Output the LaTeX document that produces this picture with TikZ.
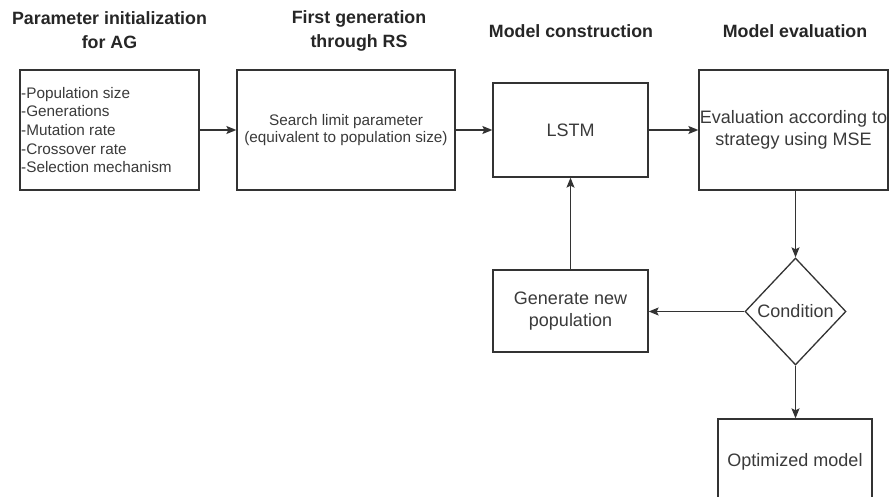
\documentclass[tikz,border=0pt]{standalone}
\usepackage{fontspec}
\setmainfont{Liberation Sans}
\usetikzlibrary{shapes.geometric,arrows.meta}
\definecolor{ink}{HTML}{333333}
\definecolor{txt}{HTML}{3A3A3A}
\tikzset{
  stage/.style={draw=ink, line width=1.3pt, inner sep=0pt, text=txt,
    align=center, font=\fontsize{18}{21.5}\selectfont},
  smalltext/.style={font=\fontsize{15.3}{17}\selectfont},
  title/.style={text=black!85, align=center, inner sep=0pt,
    font=\bfseries\fontsize{17.8}{24}\selectfont},
  decision/.style={diamond, aspect=1, draw=ink, line width=1.3pt, inner sep=0pt,
    text=txt, font=\fontsize{18}{21.5}\selectfont,
    minimum width=101pt, minimum height=107pt},
  flow/.style={draw=ink, line width=1.3pt,
    -{Stealth[length=10pt, width=8pt, inset=2pt]}},
}
\begin{document}
\begin{tikzpicture}[x=1pt, y=-1pt]
  \clip (0,0) rectangle (891,497);
  \fill[white] (0,0) rectangle (891,497);

  % column headings
  \node[title] (t1) at (109.5,30.5) {Parameter initialization\\for AG};
  \node[title] (t2) at (359,30.5) {First generation\\through RS};
  \node[title] (t3) at (571,31) {Model construction};
  \node[title] (t4) at (795,31) {Model evaluation};

  % main row of stages
  \node[stage, minimum width=179pt, minimum height=120pt] (init) at (109.5,130) {};
  \node[anchor=west, align=left, inner sep=0pt, text=txt,
        font=\fontsize{15.3}{18.6}\selectfont] (initlist) at (21,130)
    {-Population size\\-Generations\\-Mutation rate\\-Crossover rate\\-Selection mechanism};
  \node[stage, smalltext, minimum width=218pt, minimum height=120pt] (rs) at (346,130)
    {Search limit parameter\\(equivalent to population size)};
  \node[stage, minimum width=155pt, minimum height=94pt] (lstm) at (570.5,130) {LSTM};
  \node[stage, minimum width=189pt, minimum height=120pt] (eval) at (793.5,130)
    {Evaluation according to\\strategy using MSE};

  % loop and exit
  \node[decision] (cond) at (795.5,311.5) {Condition};
  \node[stage, minimum width=155pt, minimum height=82pt] (newpop) at (570.5,311)
    {Generate new\\population};
  \node[stage, minimum width=154pt, minimum height=86pt] (opt) at (795,462)
    {Optimized model};

  % connectors
  \draw[flow] (init.east) -- (rs.west);
  \draw[flow] (rs.east) -- (lstm.west);
  \draw[flow] (lstm.east) -- (eval.west);
  \draw[flow] (eval.south -| cond.north) -- (cond.north);
  \draw[flow] (cond.west) -- (newpop.east |- cond.west);
  \draw[flow] (newpop.north) -- (lstm.south);
  \draw[flow] (cond.south) -- (cond.south |- opt.north);
\end{tikzpicture}
\end{document}
